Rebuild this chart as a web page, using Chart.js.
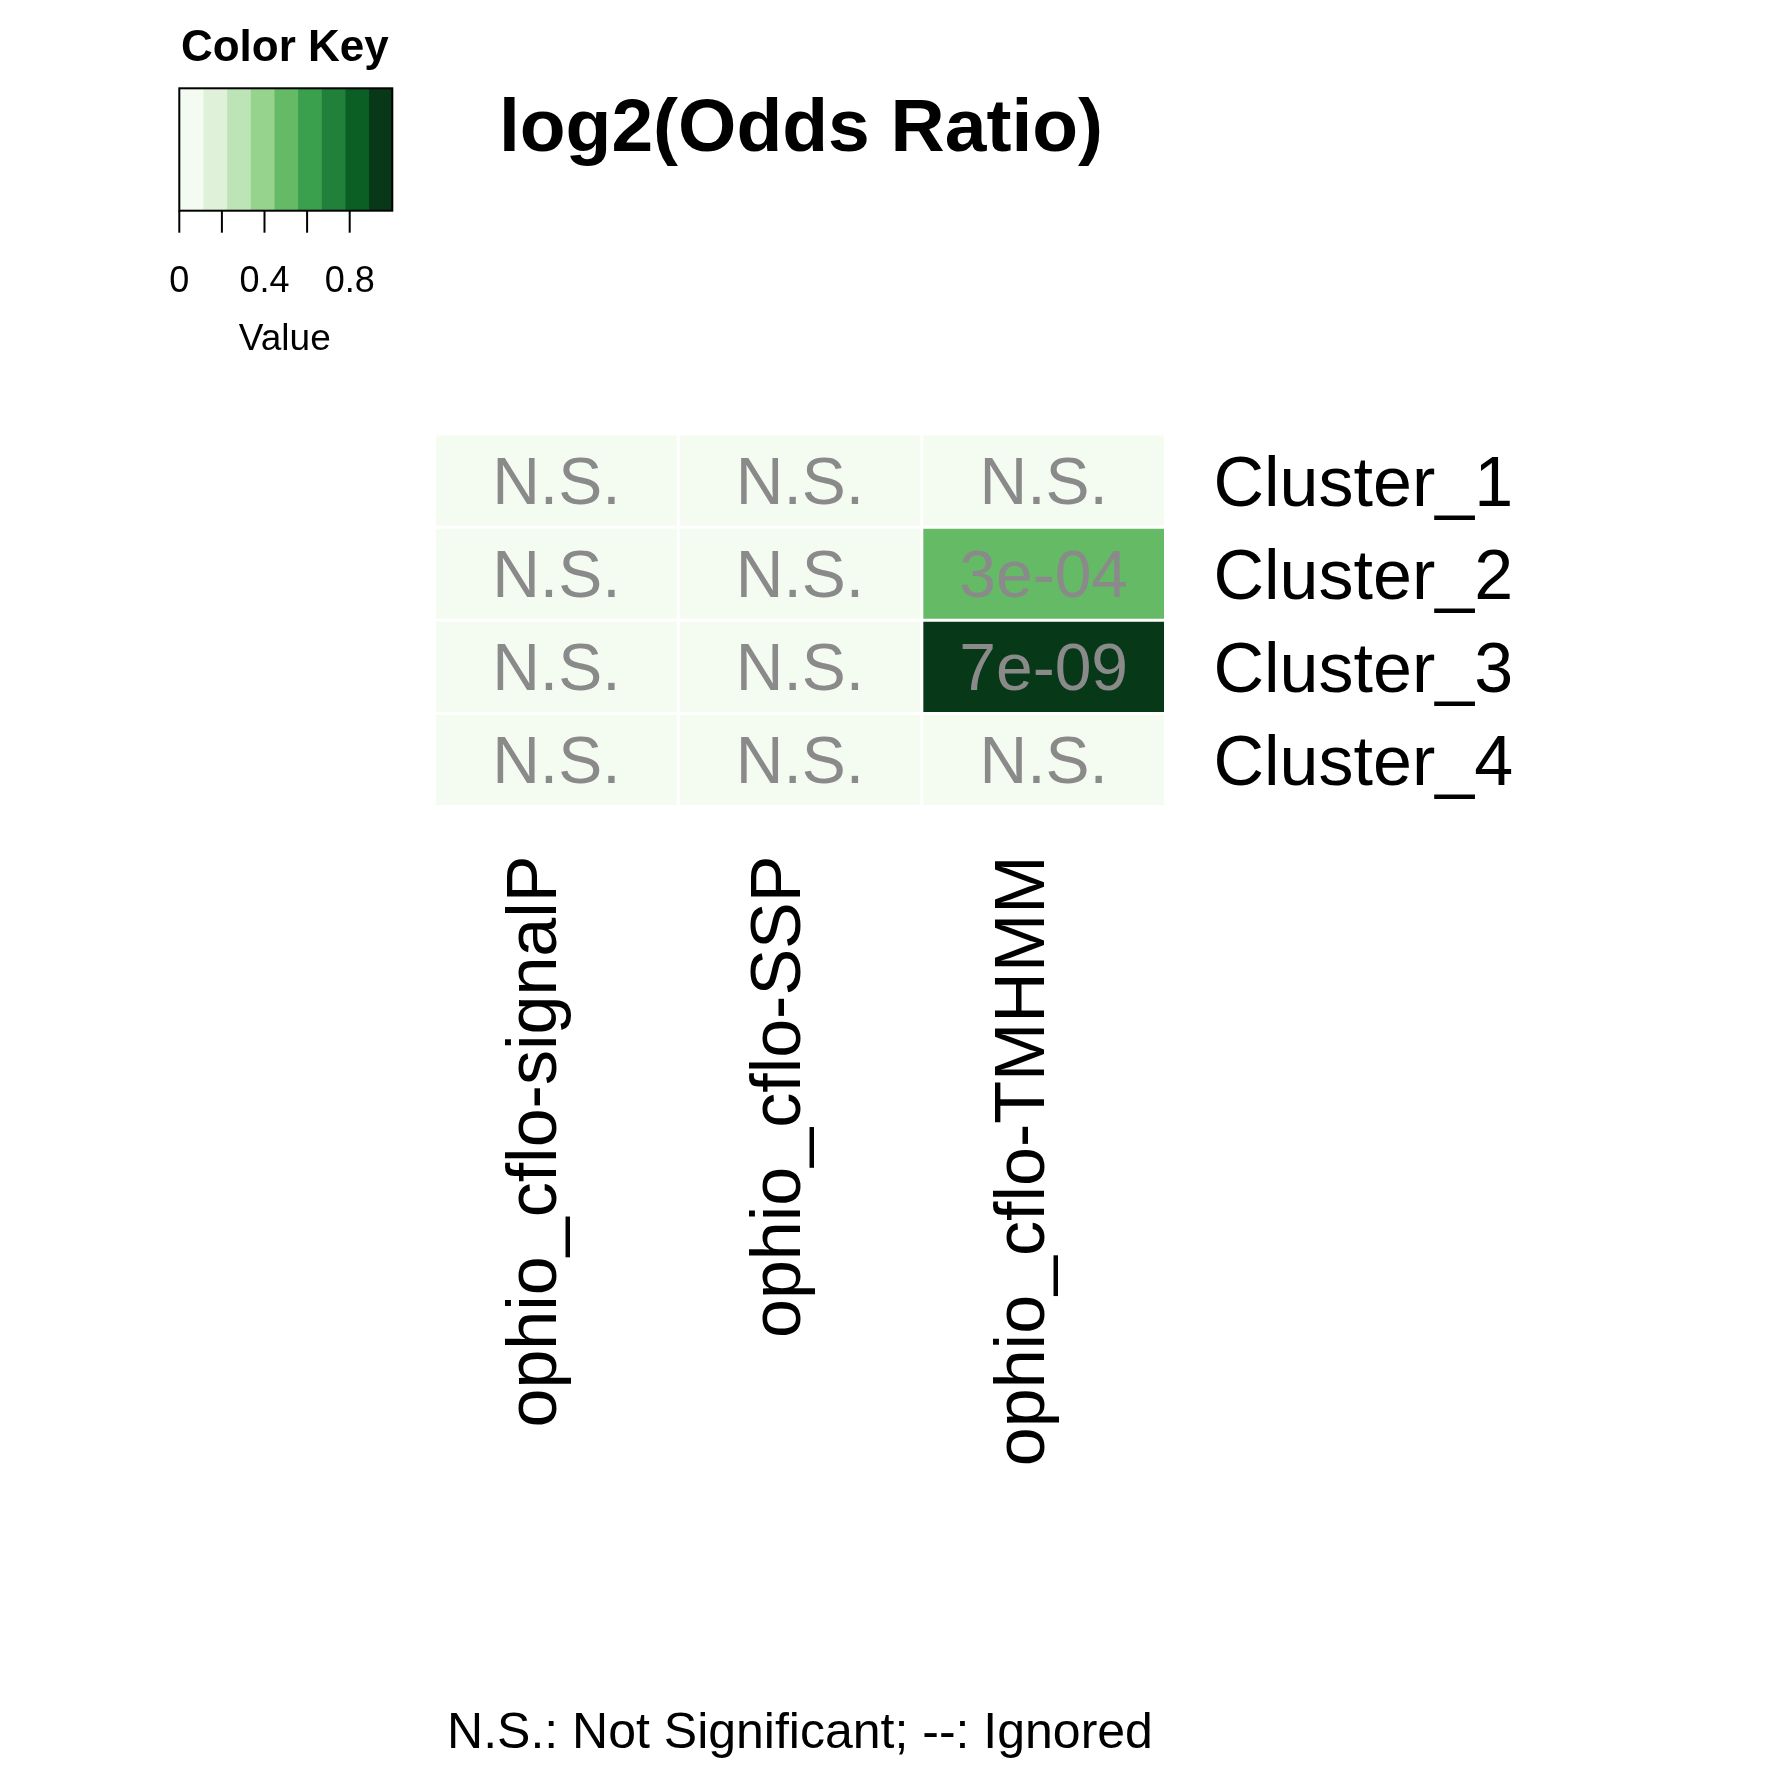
<!DOCTYPE html>
<html>
<head>
<meta charset="utf-8">
<script src="https://cdn.jsdelivr.net/npm/chart.js@4.4.1/dist/chart.umd.min.js"></script>
<style>
  html, body { margin: 0; padding: 0; background: #ffffff; }
  #wrap { position: relative; width: 1771px; height: 1771px; }
  #main { position: absolute; left: 0; top: 0; }
  #key { position: absolute; left: 0; top: 0; }
</style>
</head>
<body>
<div id="wrap">
  <canvas id="main" width="1771" height="1771"></canvas>
  <canvas id="key" width="450" height="400"></canvas>
</div>
<script>
// ---------------- data ----------------
const columns = ['ophio_cflo-signalP', 'ophio_cflo-SSP', 'ophio_cflo-TMHMM'];
const rows = ['Cluster_1', 'Cluster_2', 'Cluster_3', 'Cluster_4'];
const cluster1Values = [0, 0, 0];
const cluster2Values = [0, 0, 0.5];
const cluster3Values = [0, 0, 1.0];
const cluster4Values = [0, 0, 0];
const cluster1Text = ['N.S.', 'N.S.', 'N.S.'];
const cluster2Text = ['N.S.', 'N.S.', '3e-04'];
const cluster3Text = ['N.S.', 'N.S.', '7e-09'];
const cluster4Text = ['N.S.', 'N.S.', 'N.S.'];
const keyColors = ['#f4fbf1', '#dff2d9', '#bde4b6', '#96d38c', '#65bb65', '#3aa04e', '#21803a', '#0b5e24', '#073818'];
const keyTicks = [0, 0.2, 0.4, 0.6, 0.8];
const keyTickLabels = ['0', '', '0.4', '', '0.8'];
const titleText = 'log2(Odds Ratio)';
const footerText = 'N.S.: Not Significant; --: Ignored';
const keyTitle = 'Color Key';
const keyAxisTitle = 'Value';

const valueRows = [cluster1Values, cluster2Values, cluster3Values, cluster4Values];
const textRows = [cluster1Text, cluster2Text, cluster3Text, cluster4Text];
const FONT = '"Liberation Sans", Arial, Helvetica, sans-serif';

function colorFor(v) {
  const n = keyColors.length;
  const b = Math.max(0, Math.min(n - 1, Math.floor(v * n)));
  return keyColors[b];
}

// ---------------- main heatmap ----------------
const labelPlugin = {
  id: 'heatLabels',
  afterDraw(chart) {
    const ctx = chart.ctx;
    const xs = chart.scales.x, ys = chart.scales.y;
    const ca = chart.chartArea;
    ctx.save();
    // cell texts
    ctx.fillStyle = '#8a8a8a';
    ctx.font = '66px ' + FONT;
    ctx.textAlign = 'center';
    ctx.textBaseline = 'alphabetic';
    textRows.forEach((r, ri) => {
      const cy = ys.getPixelForValue(ri + 0.5);
      r.forEach((t, ci) => {
        const cx = xs.getPixelForValue(ci);
        ctx.fillText(t, cx, cy + 23.5);
      });
    });
    // row labels
    ctx.fillStyle = '#000';
    ctx.font = '70px ' + FONT;
    ctx.textAlign = 'left';
    rows.forEach((r, ri) => {
      const cy = ys.getPixelForValue(ri + 0.5);
      ctx.fillText(r, ca.right + 48, cy + 25.5);
    });
    // column labels (rotated)
    ctx.textAlign = 'right';
    columns.forEach((c, ci) => {
      const cx = xs.getPixelForValue(ci);
      ctx.save();
      ctx.translate(cx, ca.bottom + 49);
      ctx.rotate(-Math.PI / 2);
      ctx.fillText(c, 0, 0);
      ctx.restore();
    });
    // title
    const midX = (ca.left + ca.right) / 2;
    ctx.textAlign = 'center';
    ctx.font = 'bold 75px ' + FONT;
    ctx.fillText(titleText, midX + 1, 151);
    // footer
    ctx.font = '50px ' + FONT;
    ctx.fillText(footerText, midX, 1748);
    ctx.restore();
  }
};

const mainDatasets = rows.map((r, ri) => ({
  label: r,
  data: columns.map(() => [ri, ri + 1]),
  backgroundColor: valueRows[ri].map(colorFor),
  borderColor: '#ffffff',
  borderWidth: 1.5,
  borderSkipped: false,
  inflateAmount: 0,
  grouped: false,
  barPercentage: 1,
  categoryPercentage: 1
}));

new Chart(document.getElementById('main'), {
  type: 'bar',
  data: { labels: columns, datasets: mainDatasets },
  options: {
    responsive: false,
    animation: false,
    devicePixelRatio: 1,
    events: [],
    layout: { padding: { left: 434.5, right: 605.5, top: 434, bottom: 964.5 } },
    plugins: { legend: { display: false }, tooltip: { enabled: false }, title: { display: false } },
    scales: {
      x: { type: 'category', display: false, offset: true },
      y: { type: 'linear', display: false, min: 0, max: rows.length, reverse: true }
    }
  },
  plugins: [labelPlugin]
});

// ---------------- color key ----------------
const keyPlugin = {
  id: 'keyDecor',
  afterDraw(chart) {
    const ctx = chart.ctx;
    const xs = chart.scales.x;
    const ca = chart.chartArea;
    ctx.save();
    ctx.strokeStyle = '#000';
    ctx.lineWidth = 2;
    ctx.strokeRect(ca.left, ca.top, ca.right - ca.left, ca.bottom - ca.top);
    ctx.fillStyle = '#000';
    ctx.font = '36px ' + FONT;
    ctx.textAlign = 'center';
    ctx.textBaseline = 'alphabetic';
    keyTicks.forEach((t, i) => {
      const px = xs.getPixelForValue(t);
      ctx.beginPath();
      ctx.moveTo(px, ca.bottom);
      ctx.lineTo(px, ca.bottom + 22);
      ctx.stroke();
      if (keyTickLabels[i]) ctx.fillText(keyTickLabels[i], px, 292);
    });
    const mid = (ca.left + ca.right) / 2;
    ctx.font = '37px ' + FONT;
    ctx.fillText(keyAxisTitle, mid - 1, 350);
    ctx.font = 'bold 44px ' + FONT;
    ctx.fillText(keyTitle, mid - 1, 61);
    ctx.restore();
  }
};

const keyDatasets = keyColors.map((c, i) => ({
  data: [[i / keyColors.length, (i + 1) / keyColors.length]],
  backgroundColor: c,
  borderWidth: 0,
  inflateAmount: 0.5,
  grouped: false,
  barPercentage: 1,
  categoryPercentage: 1
}));

new Chart(document.getElementById('key'), {
  type: 'bar',
  data: { labels: ['key'], datasets: keyDatasets },
  options: {
    indexAxis: 'y',
    responsive: false,
    animation: false,
    devicePixelRatio: 1,
    events: [],
    layout: { padding: { left: 179.3, right: 57.7, top: 88.3, bottom: 189.3 } },
    plugins: { legend: { display: false }, tooltip: { enabled: false } },
    scales: {
      x: { type: 'linear', display: false, min: 0, max: 1 },
      y: { type: 'category', display: false, offset: true }
    }
  },
  plugins: [keyPlugin]
});
</script>
</body>
</html>
